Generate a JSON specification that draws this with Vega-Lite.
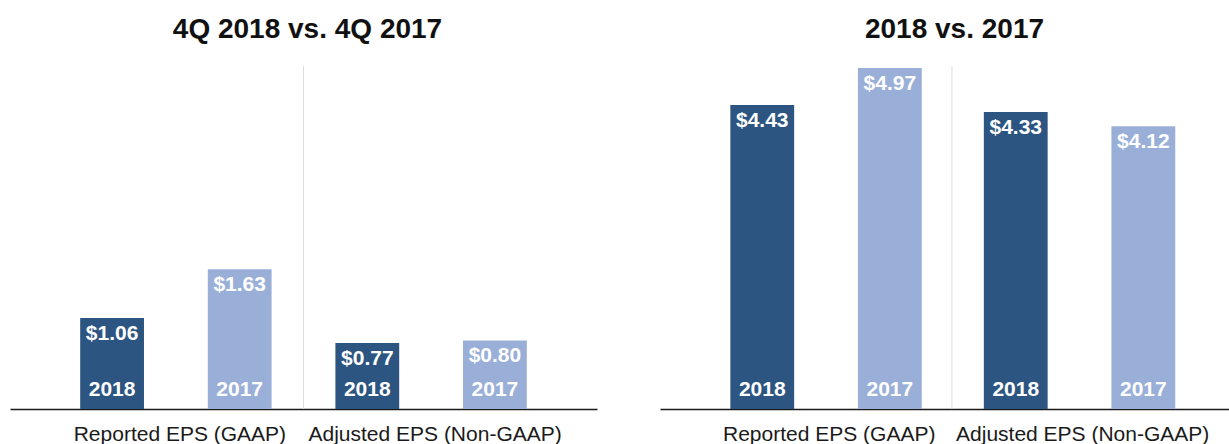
{
  "$schema": "https://vega.github.io/schema/vega-lite/v6.json",
  "padding": {"left": 10, "top": 15, "right": 0, "bottom": 0},
  "background": "white",
  "config": {
    "view": {"stroke": null},
    "font": "Liberation Sans",
    "concat": {"spacing": 63},
    "axisX": {
      "title": null, "domainColor": "#1a1a1a", "domainWidth": 1.5, "ticks": false,
      "labelFontSize": 21, "labelColor": "#1a1a1a", "labelPadding": 14, "labelAngle": 0,
      "labelLimit": 0, "labelOverlap": false, "grid": false, "labelOffset": 4
    },
    "title": {"fontSize": 28, "fontWeight": "bold", "color": "#111111", "offset": 22}
  },
  "datasets": {
    "q4": [
      {"cat": "Reported EPS (GAAP)", "year": "2018", "eps": 1.06},
      {"cat": "Reported EPS (GAAP)", "year": "2017", "eps": 1.63},
      {"cat": "Adjusted EPS (Non-GAAP)", "year": "2018", "eps": 0.77},
      {"cat": "Adjusted EPS (Non-GAAP)", "year": "2017", "eps": 0.80}
    ],
    "fy": [
      {"cat": "Reported EPS (GAAP)", "year": "2018", "eps": 4.43},
      {"cat": "Reported EPS (GAAP)", "year": "2017", "eps": 4.97},
      {"cat": "Adjusted EPS (Non-GAAP)", "year": "2018", "eps": 4.33},
      {"cat": "Adjusted EPS (Non-GAAP)", "year": "2017", "eps": 4.12}
    ],
    "sep": [{"cat": "Adjusted EPS (Non-GAAP)"}]
  },
  "hconcat": [
    {
      "title": {"text": "4Q 2018 vs. 4Q 2017", "dx": 4},
      "width": 587,
      "height": 343,
      "layer": [
        {
          "data": {"name": "sep"},
          "mark": {"type": "rule", "color": "#dddddd", "strokeWidth": 1},
          "encoding": {
            "x": {"field": "cat", "type": "nominal", "bandPosition": 0, "sort": ["Reported EPS (GAAP)", "Adjusted EPS (Non-GAAP)"]}
          }
        },
        {
          "data": {"name": "q4"},
          "mark": {"type": "bar"},
          "encoding": {
            "x": {"field": "cat", "type": "nominal", "sort": ["Reported EPS (GAAP)", "Adjusted EPS (Non-GAAP)"], "scale": {"paddingInner": 0, "paddingOuter": 0.15}},
            "xOffset": {"field": "year", "type": "nominal", "sort": ["2018", "2017"], "scale": {"paddingInner": 0.5, "paddingOuter": 0.25}},
            "y": {"field": "eps", "type": "quantitative", "scale": {"domain": [0, 4]}, "axis": null},
            "color": {"field": "year", "type": "nominal", "scale": {"domain": ["2018", "2017"], "range": ["#2D5581", "#9AAFD8"]}, "legend": null}
          }
        },
        {
          "data": {"name": "q4"},
          "mark": {"type": "text", "color": "white", "fontWeight": "bold", "fontSize": 21, "baseline": "top", "dy": 5},
          "encoding": {
            "x": {"field": "cat", "type": "nominal", "sort": ["Reported EPS (GAAP)", "Adjusted EPS (Non-GAAP)"]},
            "xOffset": {"field": "year", "type": "nominal", "sort": ["2018", "2017"]},
            "y": {"field": "eps", "type": "quantitative"},
            "text": {"field": "eps", "type": "quantitative", "format": "$.2f"}
          }
        },
        {
          "data": {"name": "q4"},
          "mark": {"type": "text", "color": "white", "fontWeight": "bold", "fontSize": 21, "baseline": "alphabetic", "dy": -13},
          "encoding": {
            "x": {"field": "cat", "type": "nominal", "sort": ["Reported EPS (GAAP)", "Adjusted EPS (Non-GAAP)"]},
            "xOffset": {"field": "year", "type": "nominal", "sort": ["2018", "2017"]},
            "y": {"datum": 0, "type": "quantitative"},
            "text": {"field": "year", "type": "nominal"}
          }
        }
      ]
    },
    {
      "title": {"text": "2018 vs. 2017", "dx": 10},
      "width": 569,
      "height": 343,
      "layer": [
        {
          "data": {"name": "sep"},
          "mark": {"type": "rule", "color": "#dddddd", "strokeWidth": 1},
          "encoding": {
            "x": {"field": "cat", "type": "nominal", "bandPosition": 0, "sort": ["Reported EPS (GAAP)", "Adjusted EPS (Non-GAAP)"]}
          }
        },
        {
          "data": {"name": "fy"},
          "mark": {"type": "bar"},
          "encoding": {
            "x": {"field": "cat", "type": "nominal", "sort": ["Reported EPS (GAAP)", "Adjusted EPS (Non-GAAP)"], "scale": {"paddingInner": 0, "paddingOuter": 0.1223, "align": 0.62}},
            "xOffset": {"field": "year", "type": "nominal", "sort": ["2018", "2017"], "scale": {"paddingInner": 0.5, "paddingOuter": 0.25}},
            "y": {"field": "eps", "type": "quantitative", "scale": {"domain": [0, 5]}, "axis": null},
            "color": {"field": "year", "type": "nominal", "scale": {"domain": ["2018", "2017"], "range": ["#2D5581", "#9AAFD8"]}, "legend": null}
          }
        },
        {
          "data": {"name": "fy"},
          "mark": {"type": "text", "color": "white", "fontWeight": "bold", "fontSize": 21, "baseline": "top", "dy": 5},
          "encoding": {
            "x": {"field": "cat", "type": "nominal", "sort": ["Reported EPS (GAAP)", "Adjusted EPS (Non-GAAP)"]},
            "xOffset": {"field": "year", "type": "nominal", "sort": ["2018", "2017"]},
            "y": {"field": "eps", "type": "quantitative"},
            "text": {"field": "eps", "type": "quantitative", "format": "$.2f"}
          }
        },
        {
          "data": {"name": "fy"},
          "mark": {"type": "text", "color": "white", "fontWeight": "bold", "fontSize": 21, "baseline": "alphabetic", "dy": -13},
          "encoding": {
            "x": {"field": "cat", "type": "nominal", "sort": ["Reported EPS (GAAP)", "Adjusted EPS (Non-GAAP)"]},
            "xOffset": {"field": "year", "type": "nominal", "sort": ["2018", "2017"]},
            "y": {"datum": 0, "type": "quantitative"},
            "text": {"field": "year", "type": "nominal"}
          }
        }
      ]
    }
  ]
}
